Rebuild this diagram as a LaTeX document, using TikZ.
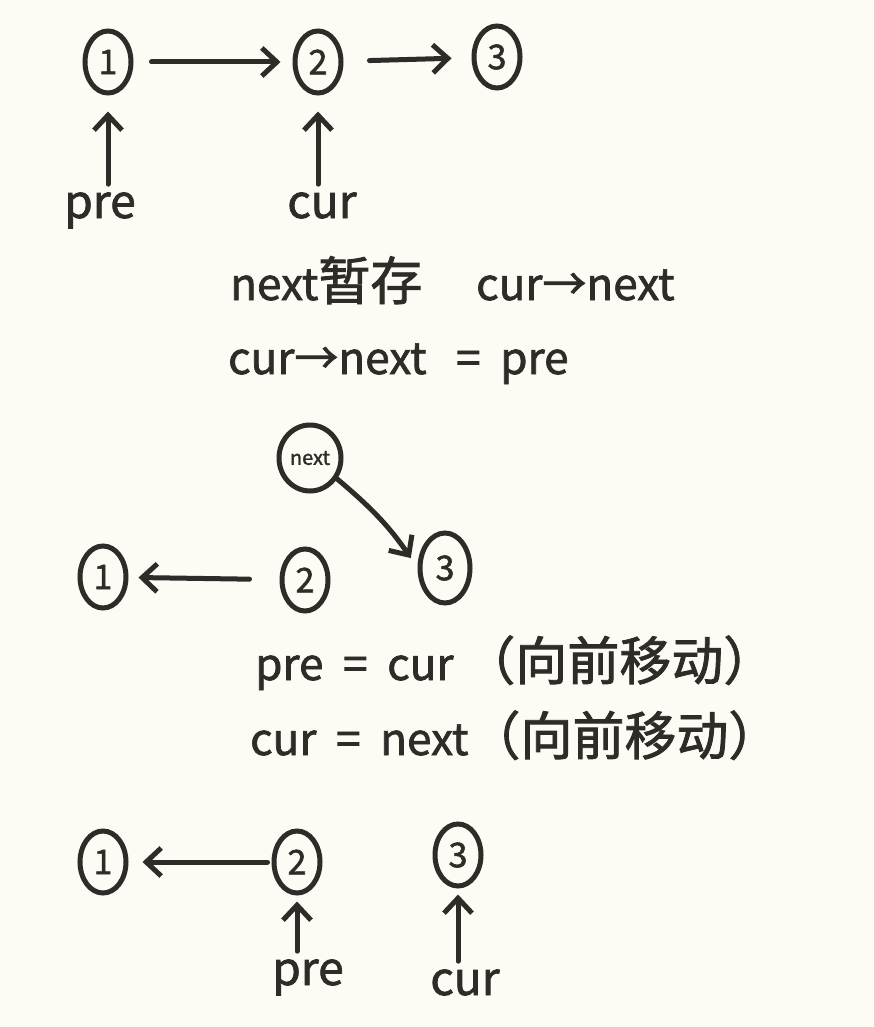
\documentclass[tikz,border=0pt]{standalone}
\usepackage{fontspec}
\newfontfamily\cjk[FakeBold=1.6]{Noto Sans CJK SC}
\usetikzlibrary{shapes.geometric,arrows.meta}
\definecolor{bgcol}{HTML}{FCFBF4}
\definecolor{inkcol}{HTML}{2E2B28}
\newcommand{\zhbig}[1]{{\fontsize{52}{56}\selectfont #1}}
\begin{document}
\begin{tikzpicture}[x=1pt,y=-1pt,
  numnode/.style={ellipse, draw=inkcol, line width=5pt, minimum width=46pt, minimum height=62pt, inner sep=0pt, font=\cjk\fontsize{34}{34}\selectfont, text=inkcol},
  lbl/.style={font=\cjk\fontsize{46}{46}\selectfont, text=inkcol, inner sep=0pt, anchor=base},
  txt/.style={font=\cjk\fontsize{44}{48}\selectfont, text=inkcol, anchor=base west, inner sep=0pt},
  arr/.style={draw=inkcol, line width=5pt, line cap=round, line join=round, -{Straight Barb[length=15pt,width=28pt]}}
]
\fill[bgcol] (0,0) rectangle (873,1027);
\useasboundingbox (0,0) rectangle (873,1027);

% top row
\node[numnode] (a1) at (108,62) {1};
\node[numnode] (a2) at (318,62) {2};
\node[numnode] (a3) at (497,57) {3};
\draw[arr, shorten <=18pt, shorten >=12pt] (a1) -- (a2);
\draw[arr, shorten <=26pt, shorten >=20pt] (a2) -- (a3);
\node[lbl] (pre1) at (100,218) {pre};
\node[lbl] (cur1) at (322,218) {cur};
\draw[arr, shorten <=8pt, shorten >=16pt] (a1.south |- pre1.north) -- (a1.south);
\draw[arr, shorten <=8pt, shorten >=16pt] (a2.south |- cur1.north) -- (a2.south);

% texts
\node[txt] (t1) at (230,300) {next\zhbig{暂存}\quad\ cur→next};
\node[txt] (t2) at (228,374) {cur→next \ \ = \ pre};

% middle
\node[numnode, minimum width=62pt, minimum height=66pt, font=\cjk\fontsize{20}{20}\selectfont] (nx) at (310,458) {next};
\node[numnode] (b1) at (103,577) {1};
\node[numnode] (b2) at (305,580) {2};
\node[numnode, minimum width=50pt, minimum height=70pt] (b3) at (445,568) {3};
\draw[arr, shorten <=30pt, shorten >=10pt] (b2) -- (b1);
\draw[arr, shorten >=12pt] (nx) to[bend left=8] (b3.west);

\node[txt] (t3) at (255,680) {pre \ = \ cur \zhbig{（向前移动）}};
\node[txt] (t4) at (250,755) {cur \ = \ next\zhbig{（向前移动）}};

% bottom
\node[numnode] (c1) at (103,862) {1};
\node[numnode] (c2) at (297,862) {2};
\node[numnode] (c3) at (458,855) {3};
\draw[arr, shorten <=4pt, shorten >=14pt] (c2) -- (c1);
\node[lbl] (pre2) at (308,985) {pre};
\node[lbl] (cur2) at (465,995) {cur};
\draw[arr, shorten <=8pt, shorten >=6pt] (c2.south |- pre2.north) -- (c2.south);
\draw[arr, shorten <=8pt, shorten >=6pt] (c3.south |- cur2.north) -- (c3.south);
\end{tikzpicture}
\end{document}
